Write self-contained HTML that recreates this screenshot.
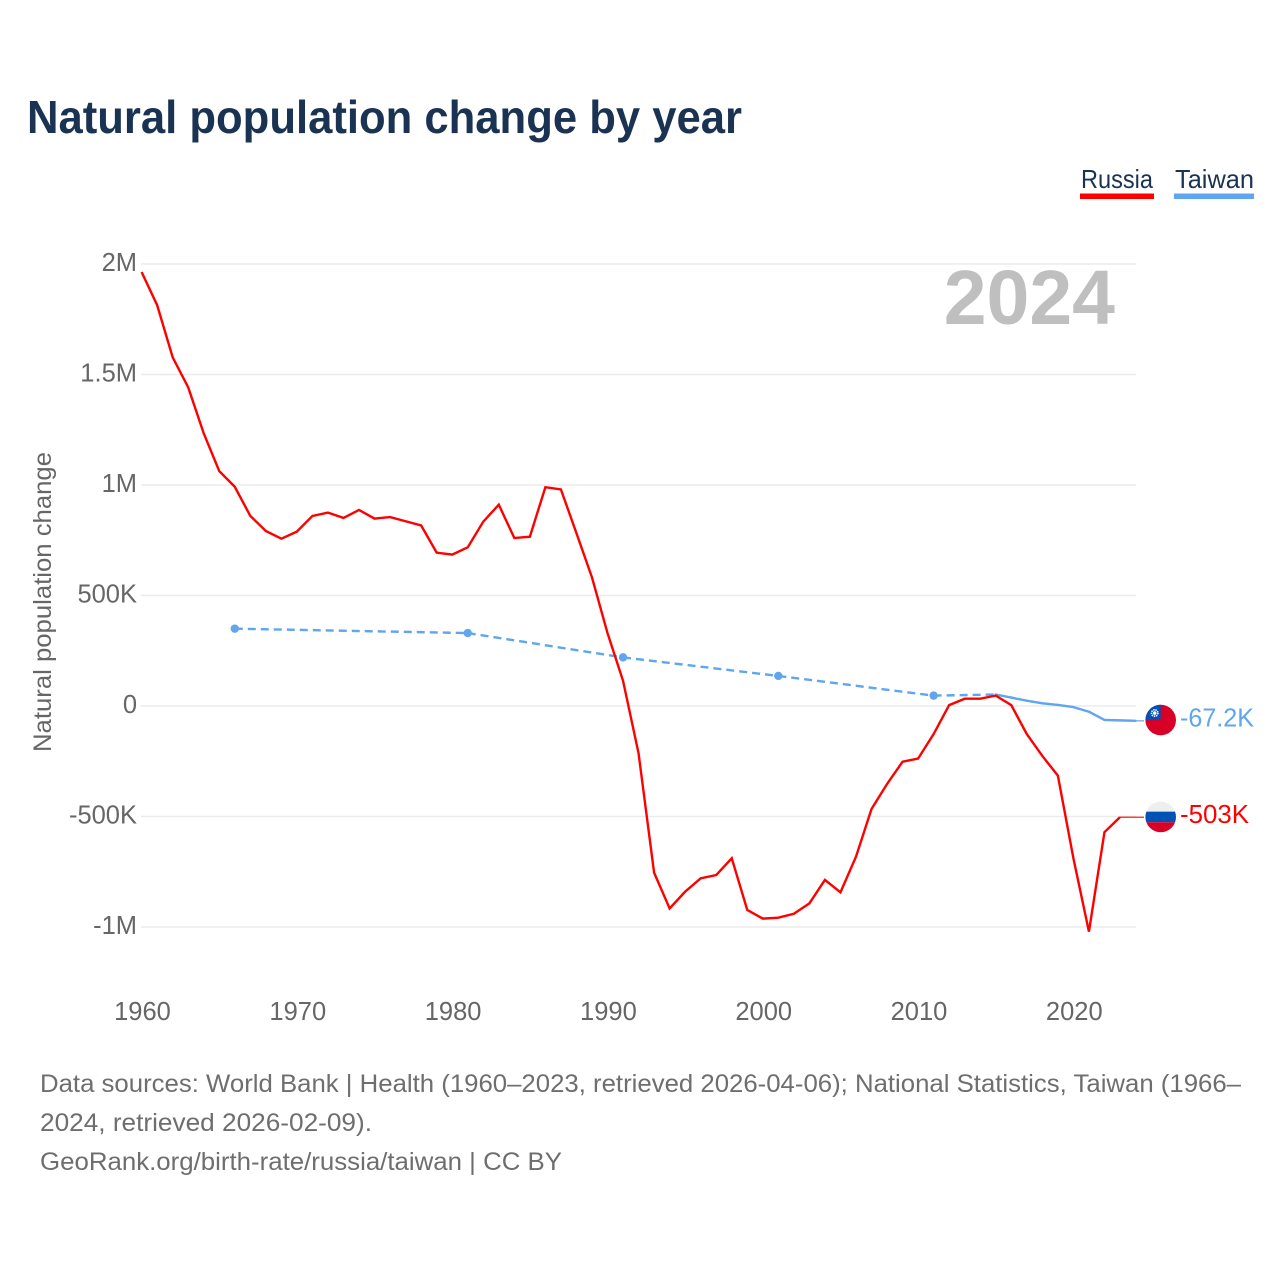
<!DOCTYPE html>
<html lang="en">
<head>
<meta charset="utf-8">
<title>Natural population change by year</title>
<style>
html,body{margin:0;padding:0;background:#fff;width:1280px;height:1280px;overflow:hidden}
svg{display:block}
text{font-family:"Liberation Sans",Arial,sans-serif}
</style>
</head>
<body>
<svg id="chart" xmlns="http://www.w3.org/2000/svg" width="1280" height="1280" viewBox="0 0 1280 1280">
  <defs>
    <clipPath id="flag-clip"><circle cx="0" cy="0" r="15.3"></circle></clipPath>
  </defs>
  <rect x="0" y="0" width="1280" height="1280" fill="#ffffff"></rect>
  <text x="27" y="133" font-size="46" font-weight="700" fill="#1a3353" textLength="715" lengthAdjust="spacingAndGlyphs">Natural population change by year</text>

  <g>
    <g>
      <text x="1081" y="188" font-size="26" fill="#1a3353" textLength="72" lengthAdjust="spacingAndGlyphs">Russia</text>
      <rect x="1080" y="193.5" width="74" height="5.5" fill="#ff0000"></rect>
    </g>
    <g>
      <text x="1175" y="188" font-size="26" fill="#1a3353" textLength="79" lengthAdjust="spacingAndGlyphs">Taiwan</text>
      <rect x="1174" y="193.5" width="80" height="5.5" fill="#5fa6ee"></rect>
    </g>
  </g>

  <g id="grid"></g>
  <text x="1115" y="324" text-anchor="end" font-size="77" font-weight="700" fill="#bfbfbf">2024</text>
  <g id="y-axis"></g>
  <g id="x-axis"></g>
  <text transform="translate(51 602) rotate(-90)" text-anchor="middle" font-size="25" fill="#666666" textLength="300" lengthAdjust="spacingAndGlyphs">Natural population change</text>
  <g id="series"></g>
  <g id="end-labels"></g>

  <g font-size="25" fill="#6e6e6e">
    <text x="40" y="1092" textLength="1201" lengthAdjust="spacingAndGlyphs">Data sources: World Bank | Health (1960–2023, retrieved 2026-04-06); National Statistics, Taiwan (1966–</text>
    <text x="40" y="1131" textLength="332" lengthAdjust="spacingAndGlyphs">2024, retrieved 2026-02-09).</text>
    <text x="40" y="1170" textLength="522" lengthAdjust="spacingAndGlyphs">GeoRank.org/birth-rate/russia/taiwan | CC BY</text>
  </g>
</svg>
<script>
const yTickValues = [2000000, 1500000, 1000000, 500000, 0, -500000, -1000000];
const yTickLabels = ["2M", "1.5M", "1M", "500K", "0", "-500K", "-1M"];
const xTickYears = [1960, 1970, 1980, 1990, 2000, 2010, 2020];

const russiaYears = [1960,1961,1962,1963,1964,1965,1966,1967,1968,1969,1970,1971,1972,1973,1974,1975,1976,1977,1978,1979,1980,1981,1982,1983,1984,1985,1986,1987,1988,1989,1990,1991,1992,1993,1994,1995,1996,1997,1998,1999,2000,2001,2002,2003,2004,2005,2006,2007,2008,2009,2010,2011,2012,2013,2014,2015,2016,2017,2018,2019,2020,2021,2022,2023];
const russiaValues = [1964000,1814000,1578000,1442000,1234000,1063000,992000,860000,792000,757000,789000,860000,875000,851000,887000,848000,855000,836000,817000,694000,685000,718000,834000,911000,760000,766000,990000,980000,782000,582000,330000,114000,-214000,-754000,-916000,-840000,-780000,-765000,-689000,-923000,-962000,-958000,-940000,-893000,-787000,-843000,-682000,-466000,-353000,-252000,-238000,-127000,4000,33000,33000,47000,4000,-127000,-226000,-315000,-689000,-1021000,-571000,-503000];
const russiaLatestValue = -503000;
const russiaLatestLabel = "-503K";

const taiwanYears = [1966,1981,1991,2001,2011,2015,2016,2017,2018,2019,2020,2021,2022,2023,2024];
const taiwanValues = [350000,330000,220000,136000,47000,52000,38000,24000,12000,5000,-5000,-26000,-63000,-65000,-67200];
const taiwanLatestValue = -67200;
const taiwanLatestLabel = "-67.2K";

const RED = "#ff0000";
const BLUE = "#5fa6ee";
const NS = "http://www.w3.org/2000/svg";

function xScale(year) { return 141.6 + (year - 1960) * 15.53; }
function yScale(value) { return 706 - value / 1000000 * 221; }

function make(tag, parent, attrs) {
  const el = document.createElementNS(NS, tag);
  for (const k in attrs) el.setAttribute(k, attrs[k]);
  parent.appendChild(el);
  return el;
}

const grid = document.getElementById("grid");
const yAxis = document.getElementById("y-axis");
const xAxis = document.getElementById("x-axis");
const series = document.getElementById("series");
const endLabels = document.getElementById("end-labels");

yTickValues.forEach(function (v, i) {
  const line = make("line", grid, { x1: 141, x2: 1136, y1: yScale(v), y2: yScale(v), stroke: "#ebebeb", "stroke-width": 1.6 });
  
  
  const t = make("text", yAxis, { x: 137, y: yScale(v) + 7, "text-anchor": "end", "font-size": 25.5, fill: "#666666" });
  
  
  t.textContent = yTickLabels[i];
});

xTickYears.forEach(function (year) {
  const t = make("text", xAxis, { x: xScale(year) + 0.9, y: 1020, "text-anchor": "middle", "font-size": 25.5, fill: "#666666" });
  
  
  t.textContent = year;
});

function pointsOf(years, values) {
  return years.map(function (y, i) { return xScale(y).toFixed(2) + "," + yScale(values[i]).toFixed(2); }).join(" ");
}

/* Taiwan: dashed across gaps in the data, solid between consecutive years */
for (let i = 0; i < taiwanYears.length - 1; i++) {
  const gap = taiwanYears[i + 1] - taiwanYears[i] > 1;
  const seg = make("line", series, {
    x1: xScale(taiwanYears[i]), y1: yScale(taiwanValues[i]),
    x2: xScale(taiwanYears[i + 1]), y2: yScale(taiwanValues[i + 1]),
    stroke: BLUE, "stroke-width": 2.4, "stroke-linecap": gap ? "butt" : "round"
  });
  if (gap) seg.setAttribute("stroke-dasharray", "8 5");
  
  
}

const russiaLine = make("polyline", series, {
  points: pointsOf(russiaYears, russiaValues),
  fill: "none", stroke: RED, "stroke-width": 2.4, "stroke-linejoin": "miter"
});



taiwanYears.forEach(function (y, i) {
  const prevGap = i === 0 || y - taiwanYears[i - 1] > 1;
  const nextGap = i === taiwanYears.length - 1 || taiwanYears[i + 1] - y > 1;
  if (prevGap && nextGap) {
    const dot = make("circle", series, { cx: xScale(y), cy: yScale(taiwanValues[i]), r: 4.2, fill: BLUE });
    
    
  }
});

function drawConnector(lastYear, lastValue, latest, color) {
  const c = make("line", series, { x1: xScale(lastYear), y1: yScale(lastValue), x2: 1144, y2: yScale(latest), stroke: color, "stroke-width": 1.2 });
  
  
}
drawConnector(russiaYears[russiaYears.length - 1], russiaValues[russiaValues.length - 1], russiaLatestValue, RED);
drawConnector(taiwanYears[taiwanYears.length - 1], taiwanValues[taiwanValues.length - 1], taiwanLatestValue, BLUE);

/* Taiwan flag */
const twY = yScale(taiwanLatestValue);
const twFlag = make("g", endLabels, { transform: "translate(1160.7 " + (twY - 0.8).toFixed(2) + ")", "clip-path": "url(#flag-clip)" });


make("rect", twFlag, { x: -16, y: -16, width: 32, height: 32, fill: "#d80027" });
make("rect", twFlag, { x: -16, y: -16, width: 16, height: 16, fill: "#0052b4" });
make("circle", twFlag, { cx: -6, cy: -7, r: 3.2, fill: "#0052b4", stroke: "#ffffff", "stroke-width": 1.6, "stroke-dasharray": "1.4 0.8" });
make("circle", twFlag, { cx: -6, cy: -7, r: 1.8, fill: "#ffffff" });

/* Russia flag */
const ruY = yScale(russiaLatestValue);
const ruFlag = make("g", endLabels, { transform: "translate(1160.7 " + (ruY - 0.2).toFixed(2) + ")", "clip-path": "url(#flag-clip)" });


make("rect", ruFlag, { x: -16, y: -16, width: 32, height: 32, fill: "#eeeeee" });
make("rect", ruFlag, { x: -16, y: -5.3, width: 32, height: 10.6, fill: "#0052b4" });
make("rect", ruFlag, { x: -16, y: 5.3, width: 32, height: 11, fill: "#d80027" });

const twLabel = make("text", endLabels, { x: 1180, y: twY + 5.7, "font-size": 25.5, fill: BLUE, textLength: 74, lengthAdjust: "spacingAndGlyphs" });


twLabel.textContent = taiwanLatestLabel;

const ruLabel = make("text", endLabels, { x: 1180, y: ruY + 5.8, "font-size": 25.5, fill: RED, textLength: 69, lengthAdjust: "spacingAndGlyphs" });


ruLabel.textContent = russiaLatestLabel;
</script>
</body>
</html>
